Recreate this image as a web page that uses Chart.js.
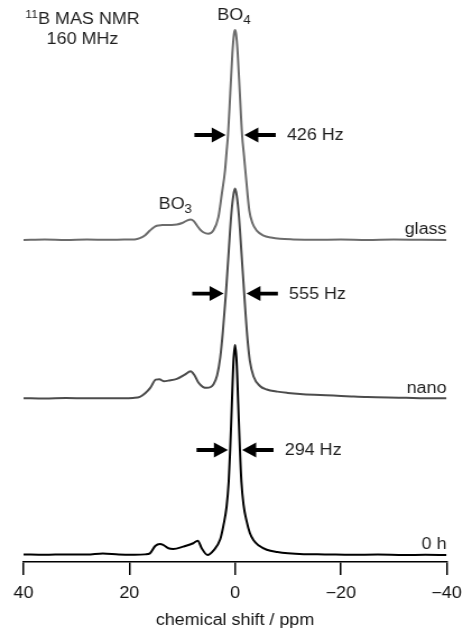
<!DOCTYPE html>
<html>
<head>
<meta charset="utf-8">
<script src="https://cdn.jsdelivr.net/npm/chart.js@4.4.1/dist/chart.umd.min.js"></script>
<style>
  html, body { margin: 0; padding: 0; background: #fff; overflow: hidden; }
</style>
</head>
<body>
<canvas id="nmr" width="413" height="636" style="display:block;width:463px;height:636px"></canvas>
<script>
// 11B MAS NMR spectra at 160 MHz, intensities normalised to the BO4 maximum (= 100)
const traceNames   = ['glass', 'nano', '0 h'];
const traceColors  = ['#6c6c6c', '#4c4c4c', '#000000'];
const traceOffsets = [150, 74.5, 0];
const fwhmHz       = [426, 555, 294];
const larmorMHz    = 160;

// glass
const ppmGlass = [40, 36, 32, 28, 24, 21, 19, 18, 17, 16.1, 15.4, 14.8, 13.8, 12.9, 12, 11, 10, 9.2, 8.4,
  7.8, 7.2, 6.6, 6.0, 5.05, 4.1, 3.15, 2.5, 1.9, 1.6, 1.33, 0.9, 0.5, 0.2, 0, -0.2, -0.5, -0.9, -1.33, -1.7,
  -2.1, -2.7, -3.3, -4.1, -5.4, -6.8, -8.5, -11, -15, -20, -25, -30, -35, -40];
const ampGlass = [0, 0.2, 0, 0.2, 0.1, 0.2, 0.3, 0.9, 2.3, 4.5, 6.0, 6.8, 7.1, 7.2, 7.2, 7.4, 8.1, 9.1, 9.8,
  9.0, 6.9, 5.0, 3.7, 3.0, 4.5, 10.9, 22, 33, 42, 50, 70, 89, 98, 100, 98, 89, 70, 50, 40,
  29, 14, 8, 4.5, 2.1, 1.2, 0.6, 0.3, 0.1, 0.2, 0, 0.2, 0.1, 0];

// nano
const ppmNano = [40, 36, 32, 28, 24, 21, 19.3, 18, 17, 16, 15, 14.3, 13.5, 12.5, 11, 9.5, 8.4, 7.7, 6.9, 6.1,
  5.35, 4.6, 4.1, 3.4, 2.8, 2.3, 1.73, 1.2, 0.7, 0.3, 0, -0.3, -0.7, -1.2, -1.73, -2.3, -2.8, -3.5, -4.7, -6,
  -8, -10, -12.3, -15, -18.6, -22, -25, -31, -35, -40];
const ampNano = [0.2, 0, 0.3, 0.1, 0.2, 0.1, 0.3, 0.8, 2.5, 5.2, 9.0, 9.2, 8.3, 8.6, 9.4, 11.4, 13, 11.2, 7.5, 5.6,
  5.1, 5.5, 6.7, 11, 19.5, 32, 50, 70, 88, 97, 100, 97, 88, 70, 50, 30, 18, 10.5, 6.0, 4.3,
  3.3, 2.7, 2.2, 1.8, 1.4, 1.0, 0.7, 0.4, 0.2, 0.1];

// 0 h
const ppm0h = [40, 36, 32, 28, 25, 22, 19, 17, 16.1, 15.1, 14.2, 13.6, 12.6, 11.7, 9.8, 7.9, 7.05, 6.3, 5.2, 4.1,
  2.8, 2.2, 1.6, 1.2, 0.92, 0.6, 0.3, 0, -0.3, -0.6, -0.92, -1.2, -1.6, -2.2, -2.8, -3.5, -4.5, -6, -8, -10,
  -13, -17, -22, -27, -32, -36, -40];
const amp0h = [0.3, 0.1, 0.3, 0.2, 0.7, 0.2, 0.1, 0.3, 0.8, 4.3, 5.2, 4.8, 3.2, 2.9, 4.0, 5.6, 6.8, 3.2, 0, 2.1,
  7.5, 14, 23, 35, 50, 72, 92, 100, 92, 72, 50, 35, 24, 16, 10.5, 7, 4.5, 2.5, 1.4, 0.8,
  0.4, 0.3, 0.1, 0.2, 0, 0.1, 0];

const tickValues = [40, 20, 0, -20, -40];
const tickLabels = ['40', '20', '0', '\u221220', '\u221240'];

const spectra = [
  { ppm: ppmGlass, amp: ampGlass },
  { ppm: ppmNano,  amp: ampNano },
  { ppm: ppm0h,    amp: amp0h }
];

const FONT = '"Liberation Sans", Arial, Helvetica, sans-serif';
const TEXT = '#1e1e1e';
const ARROW_LEN = 28;

function drawArrow(ctx, tip, y, dir) {
  const head = 12.5, halfHead = 7.5, halfShaft = 1.9;
  ctx.beginPath();
  ctx.moveTo(tip, y);
  ctx.lineTo(tip - dir * head, y - halfHead);
  ctx.lineTo(tip - dir * head, y - halfShaft);
  ctx.lineTo(tip - dir * ARROW_LEN, y - halfShaft);
  ctx.lineTo(tip - dir * ARROW_LEN, y + halfShaft);
  ctx.lineTo(tip - dir * head, y + halfShaft);
  ctx.lineTo(tip - dir * head, y + halfHead);
  ctx.closePath();
  ctx.fill();
}

// text with a lowered (sub) or raised (sup) small part, centred on cx
function drawScripted(ctx, parts, cx, baseY) {
  let total = 0;
  parts.forEach(p => { ctx.font = `${p.size}px ${FONT}`; p.w = ctx.measureText(p.t).width; total += p.w; });
  let xPos = cx - total / 2;
  ctx.textAlign = 'left';
  ctx.textBaseline = 'alphabetic';
  parts.forEach(p => {
    ctx.font = `${p.size}px ${FONT}`;
    ctx.fillText(p.t, xPos, baseY + (p.dy || 0));
    xPos += p.w;
  });
}

const annotations = {
  id: 'annotations',
  afterDatasetsDraw(chart) {
    const { ctx, chartArea, scales: { x, y } } = chart;
    ctx.save();
    ctx.fillStyle = TEXT;

    traceNames.forEach((name, i) => {
      const base = y.getPixelForValue(traceOffsets[i]);
      ctx.font = `16px ${FONT}`;
      ctx.textAlign = 'right';
      ctx.textBaseline = 'alphabetic';
      ctx.fillText(name, chartArea.right, base - 6);

      // full width at half maximum of the BO4 line
      const halfWidthPpm = fwhmHz[i] / larmorMHz / 2;
      const ay = y.getPixelForValue(traceOffsets[i] + 50);
      const leftTip = x.getPixelForValue(halfWidthPpm) - 2;
      const rightTip = x.getPixelForValue(-halfWidthPpm) + 2;
      ctx.fillStyle = '#000';
      drawArrow(ctx, leftTip, ay, 1);
      drawArrow(ctx, rightTip, ay, -1);
      ctx.fillStyle = TEXT;
      ctx.textAlign = 'left';
      ctx.textBaseline = 'middle';
      ctx.font = `16px ${FONT}`;
      ctx.fillText(`${fwhmHz[i]} Hz`, rightTip + ARROW_LEN + 10, ay + 1);
    });

    // site labels on the top spectrum
    drawScripted(ctx, [{ t: 'BO', size: 16 }, { t: '4', size: 12, dy: 3.5 }],
      x.getPixelForValue(0.2), y.getPixelForValue(traceOffsets[0] + 100) - 10);
    drawScripted(ctx, [{ t: 'BO', size: 16 }, { t: '3', size: 12, dy: 3.5 }],
      x.getPixelForValue(11.3), y.getPixelForValue(traceOffsets[0]) - 31);

    // experiment header
    drawScripted(ctx, [{ t: '11', size: 11, dy: -6.5 }, { t: 'B MAS NMR', size: 16 }], 73.6, 24);
    drawScripted(ctx, [{ t: `${larmorMHz} MHz`, size: 16 }], 73.6, 44);
    ctx.restore();
  }
};

new Chart(document.getElementById('nmr'), {
  type: 'line',
  data: {
    datasets: traceNames.map((name, i) => ({
      label: name,
      data: spectra[i].ppm.map((p, k) => ({ x: p, y: spectra[i].amp[k] + traceOffsets[i] })),
      borderColor: traceColors[i],
      borderWidth: 2,
      borderJoinStyle: 'round',
      pointRadius: 0,
      fill: false,
      cubicInterpolationMode: 'monotone'
    }))
  },
  options: {
    responsive: false,
    animation: false,
    devicePixelRatio: 1,
    layout: { padding: { top: 0, left: 21, right: 14.7, bottom: 0 } },
    plugins: { legend: { display: false }, tooltip: { enabled: false } },
    scales: {
      x: {
        type: 'linear',
        reverse: true,
        min: -40,
        max: 40,
        afterBuildTicks: s => { s.ticks = tickValues.map(v => ({ value: v })); },
        afterFit: s => { s.height = 74; s.paddingLeft = 0; s.paddingRight = 0; },
        grid: { drawOnChartArea: false, drawTicks: true, tickLength: 13, color: '#000', lineWidth: 1.5 },
        border: { display: true, color: '#000', width: 1.5 },
        ticks: {
          color: '#111',
          padding: 9,
          maxRotation: 0,
          autoSkip: false,
          font: { family: FONT, size: 16 },
          callback: v => tickLabels[tickValues.indexOf(v)]
        },
        title: {
          display: true,
          text: 'chemical shift / ppm',
          color: '#111',
          font: { family: FONT, size: 16 },
          padding: { top: 0, bottom: 6 }
        }
      },
      y: { display: false, min: -3.33, max: 264.3 }
    }
  },
  plugins: [annotations]
});
</script>
</body>
</html>
